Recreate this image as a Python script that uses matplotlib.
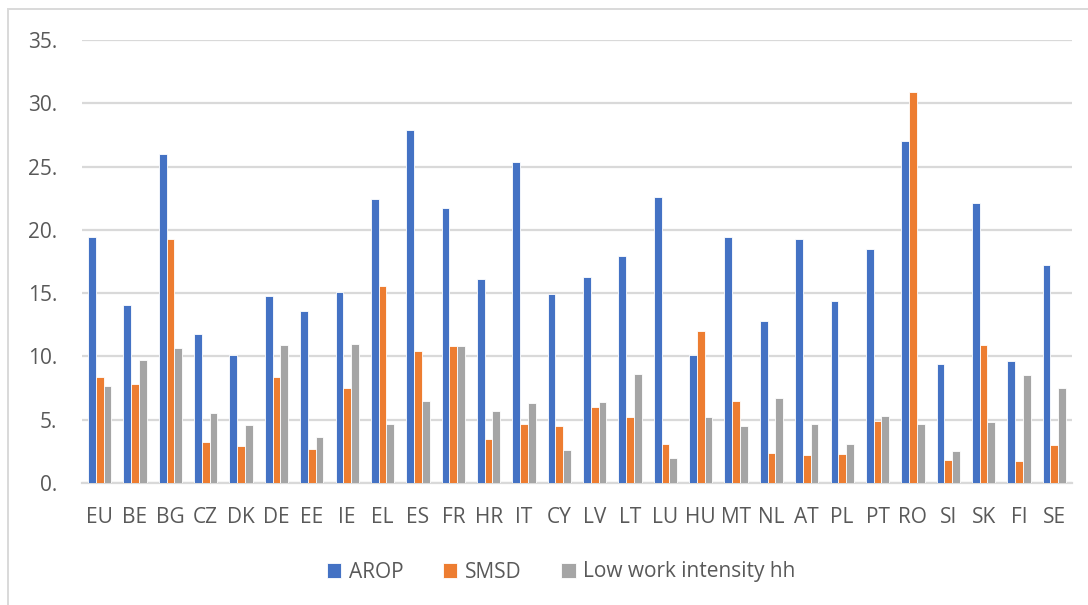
import numpy as np
import matplotlib.pyplot as plt
from matplotlib.patches import Rectangle
from matplotlib.ticker import FuncFormatter

plt.rcParams['font.family'] = ['Open Sans', 'DejaVu Sans']

# countries
countries = ['EU', 'BE', 'BG', 'CZ', 'DK', 'DE', 'EE', 'IE', 'EL', 'ES', 'FR', 'HR', 'IT', 'CY',
             'LV', 'LT', 'LU', 'HU', 'MT', 'NL', 'AT', 'PL', 'PT', 'RO', 'SI', 'SK', 'FI', 'SE']

# values
arop = [19.4, 14.1, 26.0, 11.8, 10.1, 14.8, 13.6, 15.1, 22.4, 27.9, 21.7, 16.1, 25.4, 14.9,
        16.3, 17.9, 22.6, 10.1, 19.4, 12.8, 19.3, 14.4, 18.5, 27.0, 9.4, 22.1, 9.6, 17.2]
smsd = [8.4, 7.8, 19.3, 3.2, 2.9, 8.4, 2.7, 7.5, 15.6, 10.4, 10.8, 3.5, 4.7, 4.5,
        6.0, 5.2, 3.1, 12.0, 6.5, 2.4, 2.2, 2.3, 4.9, 30.9, 1.8, 10.9, 1.7, 3.0]
lwi = [7.7, 9.7, 10.7, 5.5, 4.6, 10.9, 3.6, 11.0, 4.7, 6.5, 10.8, 5.7, 6.3, 2.6,
       6.4, 8.6, 2.0, 5.2, 4.5, 6.7, 4.7, 3.1, 5.3, 4.7, 2.5, 4.8, 8.5, 7.5]

series = [('AROP', arop, '#4472C4'),
          ('SMSD', smsd, '#ED7D31'),
          ('Low work intensity hh', lwi, '#A5A5A5')]

fig = plt.figure(figsize=(10.88, 6.05), dpi=100)
ax = fig.add_axes([82 / 1088, 1 - 483 / 605, 990 / 1088, 443 / 605])

x = np.arange(len(countries))
w = 0.22
for i, (name, vals, col) in enumerate(series):
    ax.bar(x + (i - 1) * w, vals, width=w, color=col, edgecolor='white',
           linewidth=0.6, label=name, zorder=3)

ax.set_xlim(-0.5, len(countries) - 0.5)
ax.set_ylim(0, 35)
ax.set_yticks(np.arange(0, 36, 5))
ax.yaxis.set_major_formatter(FuncFormatter(lambda v, p: '%d.' % v))
ax.set_xticks(x)
ax.set_xticklabels(countries)

ax.grid(axis='y', color='#d9d9d9', linewidth=1.6, zorder=0)
for s in ['top', 'right', 'left']:
    ax.spines[s].set_visible(False)
ax.spines['bottom'].set_color('#d9d9d9')
ax.spines['bottom'].set_linewidth(1.6)
ax.tick_params(axis='both', length=0, labelsize=15, labelcolor='#595959')
ax.tick_params(axis='x', pad=17)
ax.tick_params(axis='y', pad=18)

fig.legend(loc='center', bbox_to_anchor=(561 / 1088, 1 - 572 / 605), ncol=3,
           frameon=False, fontsize=15, labelcolor='#595959',
           handlelength=0.7, handleheight=0.7, handletextpad=0.35,
           columnspacing=1.9)

# outer chart border
fig.add_artist(Rectangle((8 / 1088, -0.05), 1.1, 1 - 9 / 605 + 0.05,
                         transform=fig.transFigure, fill=False,
                         edgecolor='#d9d9d9', linewidth=1.4))

fig.savefig('out.png', dpi=100)
